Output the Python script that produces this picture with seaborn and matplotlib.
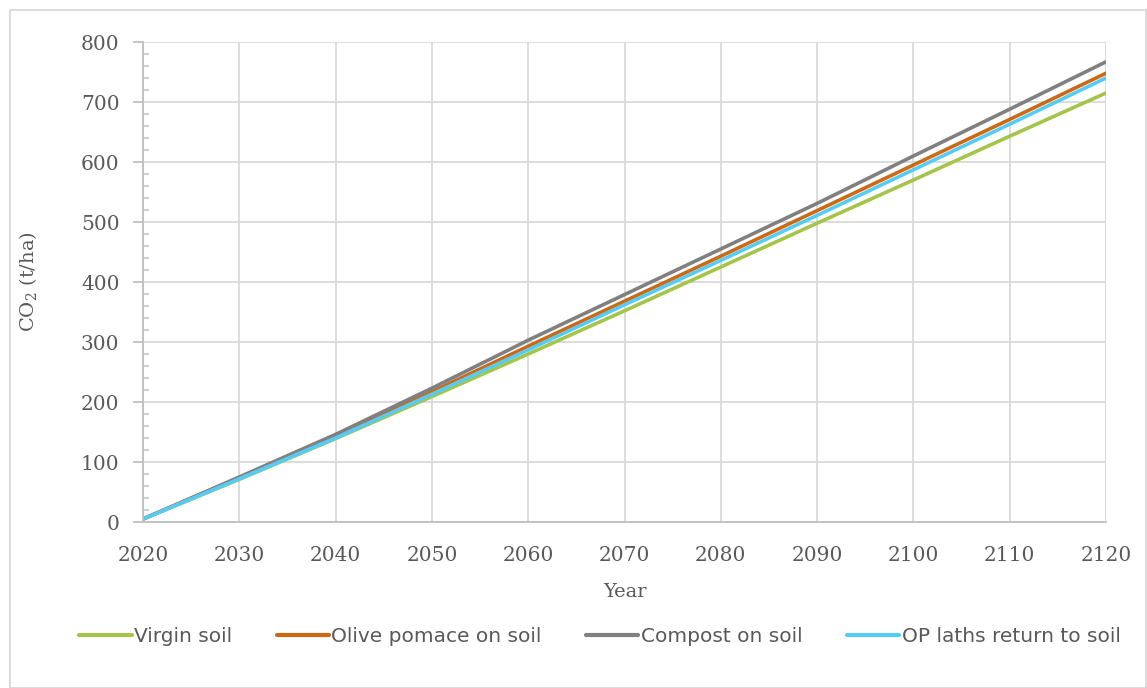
import matplotlib
matplotlib.use("Agg")
import matplotlib.pyplot as plt
import seaborn as sns
import pandas as pd
from matplotlib.ticker import MultipleLocator
from matplotlib.patches import Rectangle

years = [2020, 2030, 2040, 2050, 2060, 2070, 2080, 2090, 2100, 2110, 2120]
virgin_soil = [5, 71, 139, 209, 280, 352, 425, 498, 570, 643, 715]
olive_pomace = [5, 74, 143, 217, 293, 368, 443, 519, 595, 671, 748]
compost = [5, 75, 146, 223, 303, 379, 455, 531, 610, 688, 767]
op_laths = [5, 72, 140, 213, 287, 362, 436, 511, 587, 663, 740]

series_names = ["Virgin soil", "Olive pomace on soil", "Compost on soil", "OP laths return to soil"]
series_values = [virgin_soil, olive_pomace, compost, op_laths]
colors = ["#A5C44A", "#CC6A14", "#808080", "#55CCF7"]

rows = []
for name, vals in zip(series_names, series_values):
    for y, v in zip(years, vals):
        rows.append({"Year": y, "CO2": v, "Series": name})
df = pd.DataFrame(rows)

sns.set_theme(style="white")
plt.rcParams["font.family"] = ["DejaVu Serif"]
plt.rcParams["mathtext.fontset"] = "dejavuserif"

fig = plt.figure(figsize=(11.47, 6.88), dpi=100)
ax = fig.add_axes([143/1147, 1-522/688, (1106-143)/1147, (522-42)/688])

sns.lineplot(data=df, x="Year", y="CO2", hue="Series", hue_order=series_names,
             palette=colors, linewidth=2.6, ax=ax, legend=True, sort=False)

ax.set_xlim(2020, 2120)
ax.set_ylim(0, 800)
ax.xaxis.set_major_locator(MultipleLocator(10))
ax.yaxis.set_major_locator(MultipleLocator(100))
ax.yaxis.set_minor_locator(MultipleLocator(20))
ax.grid(True, which="major", color="#D9D9D9", linewidth=1.3)
ax.set_axisbelow(True)

for s in ["top", "right"]:
    ax.spines[s].set_visible(False)
for s in ["left", "bottom"]:
    ax.spines[s].set_color("#BFBFBF")
    ax.spines[s].set_linewidth(1.3)

tick_color = "#595959"
fs = 14.5
ax.tick_params(axis="y", which="major", direction="out", length=7, width=1.3,
               color="#BFBFBF", labelsize=fs, labelcolor=tick_color, pad=10, left=True)
ax.tick_params(axis="y", which="minor", direction="in", length=4, width=1.1,
               color="#BFBFBF", left=True)
ax.tick_params(axis="x", which="major", length=0, labelsize=fs,
               labelcolor=tick_color, pad=17)

ax.set_xlabel("Year", fontsize=fs - 0.5, color=tick_color, labelpad=13)
ax.set_ylabel("CO$_2$ (t/ha)", fontsize=fs - 0.5, color=tick_color, labelpad=30)

handles, labels = ax.get_legend_handles_labels()
ax.legend_.remove()
for h in handles:
    h.set_linewidth(3)
leg = fig.legend(handles, labels, loc="center", bbox_to_anchor=(0.523, 1-637/688),
                 ncol=4, frameon=False, handlelength=2.6, handletextpad=0.12,
                 columnspacing=2.2, prop={"family": "DejaVu Sans", "size": 14.5})
for t in leg.get_texts():
    t.set_color(tick_color)

fig.patches.append(Rectangle((10/1147, 0), 1-10/1147 - 0.0005, 1-10/688, transform=fig.transFigure,
                             fill=False, edgecolor="#D9D9D9", linewidth=1.3))

fig.savefig("out.png", dpi=100)
